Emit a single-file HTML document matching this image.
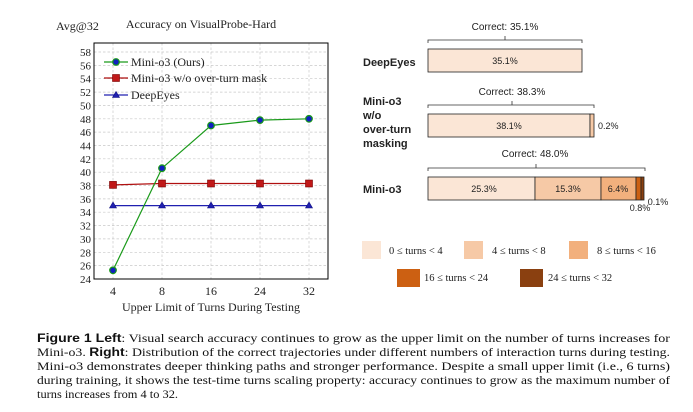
<!DOCTYPE html>
<html><head><style>body{margin:0;background:#fff}svg{display:block}</style></head><body>
<svg width="693" height="412" viewBox="0 0 693 412" xmlns="http://www.w3.org/2000/svg">
<rect width="693" height="412" fill="#fff"/>
<g font-family="Liberation Serif, serif" fill="#222">
<text x="56" y="30" font-size="12">Avg@32</text>
<text x="201" y="28" font-size="12" text-anchor="middle">Accuracy on VisualProbe-Hard</text>
</g>
<g stroke="#c8c8c8" stroke-width="0.7" stroke-dasharray="2.5,2">
<line x1="94" x2="328" y1="52" y2="52"/><line x1="94" x2="328" y1="65.4" y2="65.4"/><line x1="94" x2="328" y1="78.7" y2="78.7"/><line x1="94" x2="328" y1="92.1" y2="92.1"/><line x1="94" x2="328" y1="105.4" y2="105.4"/><line x1="94" x2="328" y1="118.8" y2="118.8"/><line x1="94" x2="328" y1="132.1" y2="132.1"/><line x1="94" x2="328" y1="145.5" y2="145.5"/><line x1="94" x2="328" y1="158.8" y2="158.8"/><line x1="94" x2="328" y1="172.2" y2="172.2"/><line x1="94" x2="328" y1="185.5" y2="185.5"/><line x1="94" x2="328" y1="198.9" y2="198.9"/><line x1="94" x2="328" y1="212.2" y2="212.2"/><line x1="94" x2="328" y1="225.6" y2="225.6"/><line x1="94" x2="328" y1="238.9" y2="238.9"/><line x1="94" x2="328" y1="252.3" y2="252.3"/><line x1="94" x2="328" y1="265.6" y2="265.6"/>
<line x1="113" x2="113" y1="43" y2="279"/><line x1="162" x2="162" y1="43" y2="279"/><line x1="211" x2="211" y1="43" y2="279"/><line x1="260" x2="260" y1="43" y2="279"/><line x1="309" x2="309" y1="43" y2="279"/>
</g>
<rect x="94" y="43" width="234" height="236" fill="none" stroke="#000" stroke-width="1"/>
<g font-family="Liberation Serif, serif" font-size="11" fill="#222" text-anchor="end">
<text x="91" y="56">58</text><text x="91" y="69.4">56</text><text x="91" y="82.7">54</text><text x="91" y="96.1">52</text><text x="91" y="109.4">50</text><text x="91" y="122.8">48</text><text x="91" y="136.1">46</text><text x="91" y="149.5">44</text><text x="91" y="162.8">42</text><text x="91" y="176.2">40</text><text x="91" y="189.5">38</text><text x="91" y="202.9">36</text><text x="91" y="216.2">34</text><text x="91" y="229.6">32</text><text x="91" y="242.9">30</text><text x="91" y="256.3">28</text><text x="91" y="269.6">26</text><text x="91" y="283">24</text>
</g>
<g font-family="Liberation Serif, serif" font-size="12" fill="#222" text-anchor="middle">
<text x="113" y="295">4</text><text x="162" y="295">8</text><text x="211" y="295">16</text><text x="260" y="295">24</text><text x="309" y="295">32</text>
<text x="211" y="311">Upper Limit of Turns During Testing</text>
</g>
<polyline points="113,205.6 162,205.6 211,205.6 260,205.6 309,205.6" fill="none" stroke="#2020b0" stroke-width="1.2"/>
<g fill="#2020b0" stroke="#101080" stroke-width="0.6">
<polygon points="113,202 109.5,208 116.5,208"/><polygon points="162,202 158.5,208 165.5,208"/><polygon points="211,202 207.5,208 214.5,208"/><polygon points="260,202 256.5,208 263.5,208"/><polygon points="309,202 305.5,208 312.5,208"/>
</g>
<polyline points="113,184.9 162,183.5 211,183.5 260,183.5 309,183.5" fill="none" stroke="#b01010" stroke-width="1.2"/>
<g fill="#c01818" stroke="#700" stroke-width="0.6">
<rect x="109.5" y="181.4" width="7" height="7"/><rect x="158.5" y="180" width="7" height="7"/><rect x="207.5" y="180" width="7" height="7"/><rect x="256.5" y="180" width="7" height="7"/><rect x="305.5" y="180" width="7" height="7"/>
</g>
<polyline points="113,270.3 162,168.2 211,125.5 260,120.1 309,118.8" fill="none" stroke="#1a9a1a" stroke-width="1.2"/>
<g fill="#1020c0" stroke="#1a9a1a" stroke-width="1.2">
<circle cx="113" cy="270.3" r="3.3"/><circle cx="162" cy="168.2" r="3.3"/><circle cx="211" cy="125.5" r="3.3"/><circle cx="260" cy="120.1" r="3.3"/><circle cx="309" cy="118.8" r="3.3"/>
</g>
<g font-family="Liberation Serif, serif" font-size="12" fill="#222">
<line x1="104" x2="128" y1="62" y2="62" stroke="#1a9a1a" stroke-width="1.2"/><circle cx="116" cy="62" r="3.3" fill="#1020c0" stroke="#1a9a1a" stroke-width="1.2"/>
<text x="131" y="66">Mini-o3 (Ours)</text>
<line x1="104" x2="128" y1="78" y2="78" stroke="#b01010" stroke-width="1.2"/><rect x="112.5" y="74.5" width="7" height="7" fill="#c01818" stroke="#700" stroke-width="0.6"/>
<text x="131" y="82">Mini-o3 w/o over-turn mask</text>
<line x1="104" x2="128" y1="95" y2="95" stroke="#2020b0" stroke-width="1.2"/><polygon points="116,91.5 112.5,97.5 119.5,97.5" fill="#2020b0" stroke="#101080" stroke-width="0.6"/>
<text x="131" y="99">DeepEyes</text>
</g>
<g font-family="Liberation Sans, sans-serif" fill="#222">
<g font-size="10" text-anchor="middle">
<text x="505" y="30">Correct: 35.1%</text>
<text x="512" y="95">Correct: 38.3%</text>
<text x="535" y="157">Correct: 48.0%</text>
</g>
<g font-size="11" font-weight="bold">
<text x="363" y="66">DeepEyes</text>
<text x="363" y="105">Mini-o3</text><text x="363" y="119">w/o</text><text x="363" y="133">over-turn</text><text x="363" y="147">masking</text>
<text x="363" y="193">Mini-o3</text>
</g>
</g>
<g fill="none" stroke="#333" stroke-width="0.8">
<path d="M428,43 v-3 h154 v3 M505,40 v-4"/>
<path d="M428,108 v-3 h166 v3 M512,105 v-4"/>
<path d="M428,171 v-3 h217 v3 M536,168 v-4"/>
</g>
<g stroke="#222" stroke-width="0.8">
<rect x="428" y="49" width="154" height="23" fill="#fbe6d6"/>
<rect x="428" y="114" width="162" height="23" fill="#fbe6d6"/>
<rect x="590" y="114" width="4" height="23" fill="#f6c9a6"/>
<rect x="428" y="177" width="107" height="23" fill="#fbe6d6"/>
<rect x="535" y="177" width="66" height="23" fill="#f6c9a6"/>
<rect x="601" y="177" width="35" height="23" fill="#f2b07d"/>
<rect x="636" y="177" width="5" height="23" fill="#cc6012"/>
<rect x="641" y="177" width="3" height="23" fill="#8a4010"/>
</g>
<g font-family="Liberation Sans, sans-serif" font-size="9" fill="#222" text-anchor="middle">
<text x="505" y="64">35.1%</text>
<text x="509" y="129">38.1%</text>
<text x="598" y="129" text-anchor="start">0.2%</text>
<text x="484" y="192">25.3%</text>
<text x="568" y="192">15.3%</text>
<text x="618" y="192">6.4%</text>
<text x="640" y="211">0.8%</text>
<text x="658" y="205">0.1%</text>
</g>
<g>
<rect x="362" y="241" width="19" height="18" fill="#fbe6d6"/>
<rect x="464" y="241" width="19" height="18" fill="#f6c9a6"/>
<rect x="569" y="241" width="19" height="18" fill="#f2b07d"/>
<rect x="397" y="269" width="23" height="18" fill="#cc6012"/>
<rect x="520" y="269" width="23" height="18" fill="#8a4010"/>
</g>
<g font-family="Liberation Serif, serif" font-size="10.5" fill="#222">
<text x="389" y="254">0 ≤ turns &lt; 4</text>
<text x="492" y="254">4 ≤ turns &lt; 8</text>
<text x="597" y="254">8 ≤ turns &lt; 16</text>
<text x="424" y="281">16 ≤ turns &lt; 24</text>
<text x="548" y="281">24 ≤ turns &lt; 32</text>
</g>
<g font-family="Liberation Serif, serif" font-size="11.5" fill="#111">
<text x="37" y="342" textLength="633" lengthAdjust="spacingAndGlyphs"><tspan font-family="Liberation Sans, sans-serif" font-weight="bold">Figure 1  Left</tspan>: Visual search accuracy continues to grow as the upper limit on the number of turns increases for</text>
<text x="37" y="356" textLength="633" lengthAdjust="spacingAndGlyphs">Mini-o3. <tspan font-family="Liberation Sans, sans-serif" font-weight="bold">Right</tspan>: Distribution of the correct trajectories under different numbers of interaction turns during testing.</text>
<text x="37" y="370" textLength="633" lengthAdjust="spacingAndGlyphs">Mini-o3 demonstrates deeper thinking paths and stronger performance. Despite a small upper limit (i.e., 6 turns)</text>
<text x="37" y="384" textLength="633" lengthAdjust="spacingAndGlyphs">during training, it shows the test-time turns scaling property: accuracy continues to grow as the maximum number of</text>
<text x="37" y="398" textLength="141" lengthAdjust="spacingAndGlyphs">turns increases from 4 to 32.</text>
</g>
</svg>
</body></html>
